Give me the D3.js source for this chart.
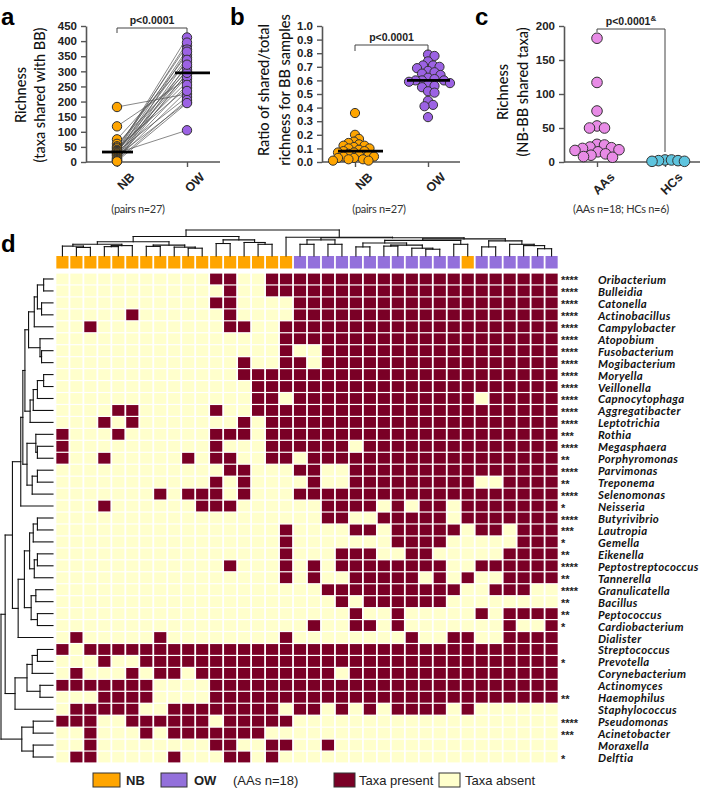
<!DOCTYPE html>
<html><head><meta charset="utf-8">
<script src="https://cdn.jsdelivr.net/npm/d3@7"></script>
<style>
body{margin:0;background:#fff;}
svg{display:block;}
</style></head><body>
<svg id="chart" width="709" height="795"></svg>
<script>
// ---------------- DATA ----------------
const groupsA = ["NB", "OW"];
const richNB = [182,118,75,60,52,48,45,40,38,36,35,34,33,33,30,28,25,22,20,16,12,10,8,6,4,3,2];
const richOW = [225,275,330,300,355,245,385,265,315,412,290,215,345,395,105,372,305,282,198,255,365,235,338,205,295,322,195];
const richTicks = [0,50,100,150,200,250,300,350,400,450];

const ratioNB = [0.36,0.20,0.17,0.15,0.14,0.13,0.12,0.12,0.11,0.10,0.10,0.09,0.08,0.08,0.07,0.07,0.06,0.05,0.05,0.04,0.04,0.03,0.03,0.02,0.02,0.01,0.01];
const ratioOW = [0.79,0.78,0.74,0.71,0.71,0.70,0.69,0.67,0.66,0.65,0.64,0.62,0.61,0.60,0.60,0.60,0.59,0.58,0.57,0.56,0.55,0.52,0.51,0.45,0.42,0.41,0.33];
const ratioTicks = [0,0.1,0.2,0.3,0.4,0.5,0.6,0.7,0.8,0.9,1.0];

const groupsC = ["AAs", "HCs"];
const sharedAAs = [182,117,75,53,50,50,26,25,22,21,20,18,17,15,12,10,8,7];
const sharedHCs = [3,3,2,2,1,1];
const sharedTicks = [0,50,100,150,200];

const taxa = ["Oribacterium","Bulleidia","Catonella","Actinobacillus","Campylobacter","Atopobium","Fusobacterium","Mogibacterium","Moryella","Veillonella","Capnocytophaga","Aggregatibacter","Leptotrichia","Rothia","Megasphaera","Porphyromonas","Parvimonas","Treponema","Selenomonas","Neisseria","Butyrivibrio","Lautropia","Gemella","Eikenella","Peptostreptococcus","Tannerella","Granulicatella","Bacillus","Peptococcus","Cardiobacterium","Dialister","Streptococcus","Prevotella","Corynebacterium","Actinomyces","Haemophilus","Staphylococcus","Pseudomonas","Acinetobacter","Moraxella","Delftia"];
const stars = ["****","****","****","****","****","****","****","****","****","****","****","****","****","***","****","**","****","**","****","*","****","***","*","**","****","**","****","**","**","*","","","*","","","**","","****","***","","*"];
const sampleGroups = "NNNNNNNNNNNNNNNNNOOOOOOOOOOOONOOOOOO";
const presence = [
"000000000001100111111111111111111111",
"000000000000100111111111111111111111",
"000000000001100001111111111111111111",
"000001000000100001111111111111111111",
"001000000000110011111111111111111111",
"000000000000000011111111111111111111",
"000000000000000010011111111111111111",
"000000000000010011011111111111111111",
"000000000000011111111111111111111111",
"000000000000001111111111111111111111",
"000000000000001101111111111111011111",
"000011000001001111111111111111111111",
"000101000000010111111111111111111111",
"100010000001110111111111111111111111",
"100000000001000111111011111111111111",
"100100000101100110111111111111111111",
"000000000000110001100111111111111111",
"000000000001010000100111111111001111",
"000000010111010001111111111111111111",
"000100000011100000011110101101111111",
"000000000000000000011001111101111111",
"000000000000000010000110111110110111",
"000000000000000010000000111100000111",
"000000000000000010001110011000001111",
"000000000000100010101111111100111111",
"000000000000000010100111110101001111",
"000000000000000000011111111110011100",
"000000000000000000001011111100000000",
"000000000000000000000100100000101111",
"000000000000000000100110100000001001",
"010000010000000010000000010011001111",
"101111111111111111111111111111111111",
"000100111111111111111111111111111111",
"010001011011111111110111111111111111",
"111111100001111111111111111111111111",
"000111100001111111111111111111111111",
"011111001111111101101010111101000000",
"111001111110111110000000000000000000",
"001000101111111000000000000000000000",
"001000000001100110010000000000000000",
"011000001000110100000000000000000000"];
// dendrograms: [height, childA, childB]; leaves are 1-based indices
const colTree = [1.0,
  [0.75,
    [0.55,
      [0.45, [0.38, 1, [0.33, 2, 3]], [0.4, [0.36, 4, 5], 6]],
      [0.42, [0.37, 7, 8], [0.34, 9, [0.3, 10, 11]]]],
    [0.62, [0.48, 12, 13], [0.52, 14, [0.45, 15, 16]]]],
  [0.72, 17,
    [0.7,
      [0.62, [0.45, 18, 19], [0.45, 20, 21]],
      [0.66,
        [0.6, [0.5, [0.35, 22, 23], [0.42, [0.38, 24, 25], [0.3, 26, [0.26, 27, 28]]]], [0.45, 29, 30]],
        [0.58, [0.35, 31, 32], [0.45, 33, [0.4, 34, [0.28, 35, 36]]]]]]]];
const rowTree = [1.0,
  [0.92,
    [0.78,
      [0.62,
        [0.58,
          [0.54,
            [0.47, [0.36, [0.3, [0.18, 1, 2], [0.22, 3, 4]], 5], [0.25, 6, [0.22, 7, 8]]],
            [0.44, [0.38, [0.3, [0.18, 9, 10], 11], 12], 13]],
          [0.5, [0.33, 14, [0.3, 15, 16]], [0.4, [0.3, 17, 18], 19]]],
        20],
      [0.67, [0.55, [0.45, [0.38, [0.3, 21, 22], 23], [0.36, [0.3, 24, 25], 26]], [0.42, [0.33, 27, 28], [0.3, 29, 30]]], 31]],
    [0.73, [0.5, [0.4, [0.3, 32, 33], 34], [0.25, 35, 36]], 37]],
  [0.6, [0.38, 38, 39], [0.38, 40, 41]]];

// ---------------- STYLE ----------------
const C = {nb:"#ffa500", ow:"#9c62e4", aa:"#e88be6", hc:"#5ec4de", present:"#7a0026", absent:"#ffffcc", annNB:"#ffa500", annOW:"#9370db", axis:"#555"};
const svg = d3.select("#chart");
const TICKF = "'Liberation Sans', Arial, sans-serif";
const TITLEF = "Lato, 'Open Sans', sans-serif";

function panelLetter(t, x, y){
  svg.append("text").attr("x",x).attr("y",y).text(t)
    .attr("font-family",TICKF).attr("font-weight","bold").attr("font-size",24).attr("fill","#000");
}
function yTitle(lines, xs, yc){
  lines.forEach((l,i)=>svg.append("text").attr("transform",`translate(${xs[i]},${yc}) rotate(-90)`)
    .attr("text-anchor","middle").attr("dominant-baseline","central")
    .attr("font-family",TITLEF).attr("font-size",14.5).attr("font-weight",500).attr("fill","#111").text(l));
}
function axes(y, ticks, fmt, axX, axEnd, x){
  const ga = svg.append("g").attr("transform",`translate(${axX},0)`)
    .call(d3.axisLeft(y).tickValues(ticks).tickFormat(fmt).tickSize(5).tickSizeOuter(0));
  ga.select(".domain").attr("stroke",C.axis).attr("stroke-width",1.6);
  ga.selectAll(".tick line").attr("stroke",C.axis).attr("stroke-width",1.4);
  ga.selectAll("text").attr("font-family",TICKF).attr("font-weight","bold").attr("font-size",11.5).attr("fill","#222").attr("dx",-1);
  const y0 = y.range()[0];
  const gx = svg.append("g").attr("transform",`translate(0,${y0})`)
    .call(d3.axisBottom(x).tickSize(5).tickSizeOuter(0));
  gx.select(".domain").remove();
  gx.append("line").attr("x1",axX).attr("x2",axEnd).attr("stroke",C.axis).attr("stroke-width",1.6);
  gx.selectAll(".tick line").attr("stroke",C.axis).attr("stroke-width",1.4);
  gx.selectAll(".tick text").attr("font-family",TICKF).attr("font-weight","bold").attr("font-size",12.5).attr("fill","#222")
    .attr("text-anchor","end").attr("transform","translate(6,4) rotate(-45)").attr("dy","0.7em");
}
function median(x1, x2, yv){
  svg.append("line").attr("x1",x1).attr("x2",x2).attr("y1",yv).attr("y2",yv).attr("stroke","#000").attr("stroke-width",2.8);
}
function swarm(values, y, cx, r, minD){
  const placed=[];
  values.slice().sort((a,b)=>b-a).forEach(v=>{
    const yy=y(v); let xx=cx;
    for(let k=0;k<400;k++){
      const off=(k%2?1:-1)*Math.ceil(k/2)*0.5; const x=cx+off;
      if(placed.every(q=>Math.hypot(q.x-x,q.y-yy)>=minD)){xx=x;break;}
    }
    placed.push({x:xx,y:yy,v});
  });
  return placed;
}
function dots(pts, r, fill){
  svg.append("g").selectAll("circle").data(pts).join("circle")
    .attr("cx",d=>d.x).attr("cy",d=>d.y).attr("r",r).attr("fill",fill).attr("stroke","#333").attr("stroke-width",1);
}
function pval(x1,x2,yb,l,rr,label,sup){
  svg.append("path").attr("d",`M${x1},${yb+l}V${yb}H${x2}V${yb+rr}`).attr("fill","none").attr("stroke","#444").attr("stroke-width",1);
  const t=svg.append("text").attr("x",(x1+x2)/2).attr("y",yb-4).attr("text-anchor","middle")
    .attr("font-family",TICKF).attr("font-size",10.5).attr("font-weight",600).attr("fill","#222").text(label);
  if(sup) t.append("tspan").attr("dy",-4).attr("font-size",8).text(sup);
}
function subtitle(t,x,y){
  svg.append("text").attr("x",x).attr("y",y).attr("text-anchor","middle").attr("font-family",TITLEF)
    .attr("font-size",11).attr("fill","#333").attr("letter-spacing",-0.3).text(t);
}

// ---------------- PANEL A ----------------
panelLetter("a",1,25);
const yA = d3.scaleLinear().domain([0,450]).range([162,26]);
const xA = d3.scalePoint().domain(groupsA).range([117,187]);
yTitle(["Richness","(taxa shared with BB)"],[20,39],95);
const gl = svg.append("g");
richNB.forEach((v,i)=>gl.append("line").attr("x1",xA("NB")).attr("y1",yA(v)).attr("x2",xA("OW")).attr("y2",yA(richOW[i]))
  .attr("stroke","#555").attr("stroke-width",0.7));
axes(yA, richTicks, d3.format("d"), 86, 220, xA);
dots(richNB.map(v=>({x:xA("NB"),y:yA(v)})),4.7,C.nb);
dots(richOW.map(v=>({x:xA("OW"),y:yA(v)})),4.7,C.ow);
median(xA("NB")-15,xA("NB")+16,yA(d3.median(richNB)));
median(xA("OW")-12,xA("OW")+23,yA(d3.median(richOW)));
pval(xA("NB"),xA("OW"),28,5,5,"p<0.0001");
subtitle("(pairs n=27)",138,213);

// ---------------- PANEL B ----------------
panelLetter("b",230,25);
const yB = d3.scaleLinear().domain([0,1]).range([162,26]);
const xB = d3.scalePoint().domain(groupsA).range([355,428]);
yTitle(["Ratio of shared/total","richness for BB samples"],[263,284],90);
axes(yB, ratioTicks, d3.format(".1f"), 322, 460, xB);
dots(swarm(ratioNB,yB,xB("NB"),4.6,5.4),4.6,C.nb);
dots(swarm(ratioOW,yB,xB("OW"),4.6,6.4),4.6,C.ow);
median(xB("NB")-17,xB("NB")+28,yB(d3.median(ratioNB)));
median(xB("OW")-21,xB("OW")+22,yB(d3.median(ratioOW)));
pval(xB("NB"),xB("OW"),45,6,6,"p<0.0001");
subtitle("(pairs n=27)",379,213);

// ---------------- PANEL C ----------------
panelLetter("c",475,25);
const yC = d3.scaleLinear().domain([0,200]).range([162,26]);
const xC = d3.scalePoint().domain(groupsC).range([597,665]);
yTitle(["Richness","(NB-BB shared taxa)"],[502,522],92);
axes(yC, sharedTicks, d3.format("d"), 564, 700, xC);
median(xC("AAs")-20,xC("AAs")+23,yC(d3.median(sharedAAs)));
median(xC("HCs")-12,xC("HCs")+13,yC(d3.median(sharedHCs)));
dots(swarm(sharedAAs,yC,xC("AAs"),5.3,7.5),5.3,C.aa);
dots(swarm(sharedHCs,yC,xC("HCs"),5.3,6.5),5.3,C.hc);
pval(xC("AAs"),xC("HCs"),29,3,123,"p<0.0001","&");
subtitle("(AAs n=18; HCs n=6)",621,213);

// ---------------- PANEL D ----------------
panelLetter("d",1,252);
const nCol = sampleGroups.length, nRow = taxa.length;
const xH = d3.scaleBand().domain(d3.range(nCol)).range([55.5,558.5]).paddingInner(0.13).paddingOuter(0.06);
const yH = d3.scaleBand().domain(d3.range(nRow)).range([273,763]).paddingInner(0.1).paddingOuter(0.05);
// annotation
svg.append("g").selectAll("rect").data(sampleGroups.split("")).join("rect")
  .attr("x",(d,i)=>xH(i)).attr("y",256).attr("width",xH.bandwidth()).attr("height",12.5)
  .attr("fill",d=>d==="N"?C.annNB:C.annOW);
// cells
const cells=[];
presence.forEach((row,r)=>row.split("").forEach((v,c)=>cells.push({r,c,v:+v})));
svg.append("g").selectAll("rect").data(cells).join("rect")
  .attr("x",d=>xH(d.c)).attr("y",d=>yH(d.r)).attr("width",xH.bandwidth()).attr("height",yH.bandwidth())
  .attr("fill",d=>d.v?C.present:C.absent);
// stars and labels
const gLab = svg.append("g");
taxa.forEach((t,i)=>{
  const yc = yH(i)+yH.bandwidth()/2;
  gLab.append("text").attr("x",561).attr("y",yc+5.5).attr("font-family",TICKF).attr("font-size",11).attr("font-weight","bold").attr("fill","#222").text(stars[i]);
  gLab.append("text").attr("x",598).attr("y",yc+0.5).attr("dominant-baseline","central").attr("font-family",TITLEF)
    .attr("font-size",11.4).attr("letter-spacing",0.35).attr("font-weight","bold").attr("font-style","italic").attr("fill","#111").text(t);
});
// dendrograms
function drawTree(g, node, leafPos, hPos, vertical){
  if(typeof node==="number") return {p:leafPos(node-1),h:0};
  const [h,a,b]=node;
  const A=drawTree(g,a,leafPos,hPos,vertical), B=drawTree(g,b,leafPos,hPos,vertical);
  const seg=(p1,h1,p2,h2)=>{
    const l=g.append("line");
    if(vertical) l.attr("x1",p1).attr("y1",hPos(h1)).attr("x2",p2).attr("y2",hPos(h2));
    else l.attr("x1",hPos(h1)).attr("y1",p1).attr("x2",hPos(h2)).attr("y2",p2);
  };
  seg(A.p,A.h,A.p,h); seg(B.p,B.h,B.p,h); seg(A.p,h,B.p,h);
  return {p:(A.p+B.p)/2,h};
}
const gCT = svg.append("g").attr("stroke","#111").attr("stroke-width",1.1).attr("stroke-linecap","square");
drawTree(gCT,colTree,i=>xH(i)+xH.bandwidth()/2,d3.scaleLinear().domain([0,1]).range([256,230]),true);
const gRT = svg.append("g").attr("stroke","#111").attr("stroke-width",1.1).attr("stroke-linecap","square");
drawTree(gRT,rowTree,i=>yH(i)+yH.bandwidth()/2,d3.scaleLinear().domain([0,1]).range([53,1]),false);

// legend
const LF = "'Liberation Sans Narrow','Arial Narrow','Liberation Sans',sans-serif";
const legendItems = [
  {type:"box",x:93,w:27,fill:C.annNB},{type:"text",x:126,t:"NB",bold:true},
  {type:"box",x:161,w:26,fill:C.annOW},{type:"text",x:194,t:"OW",bold:true},
  {type:"text",x:233,t:"(AAs n=18)"},
  {type:"box",x:334,w:21,fill:C.present},{type:"text",x:359,t:"Taxa present"},
  {type:"box",x:439,w:21,fill:C.absent},{type:"text",x:465,t:"Taxa absent"}];
const gLeg = svg.append("g");
legendItems.forEach(d=>{
  if(d.type==="box") gLeg.append("rect").attr("x",d.x).attr("y",773).attr("width",d.w).attr("height",14).attr("fill",d.fill).attr("stroke","#333").attr("stroke-width",1);
  else gLeg.append("text").attr("x",d.x).attr("y",780).attr("dominant-baseline","central").attr("font-family",LF)
    .attr("font-size",13).attr("font-weight",d.bold?"bold":"normal").attr("fill","#222").text(d.t);
});
</script>
</body></html>
